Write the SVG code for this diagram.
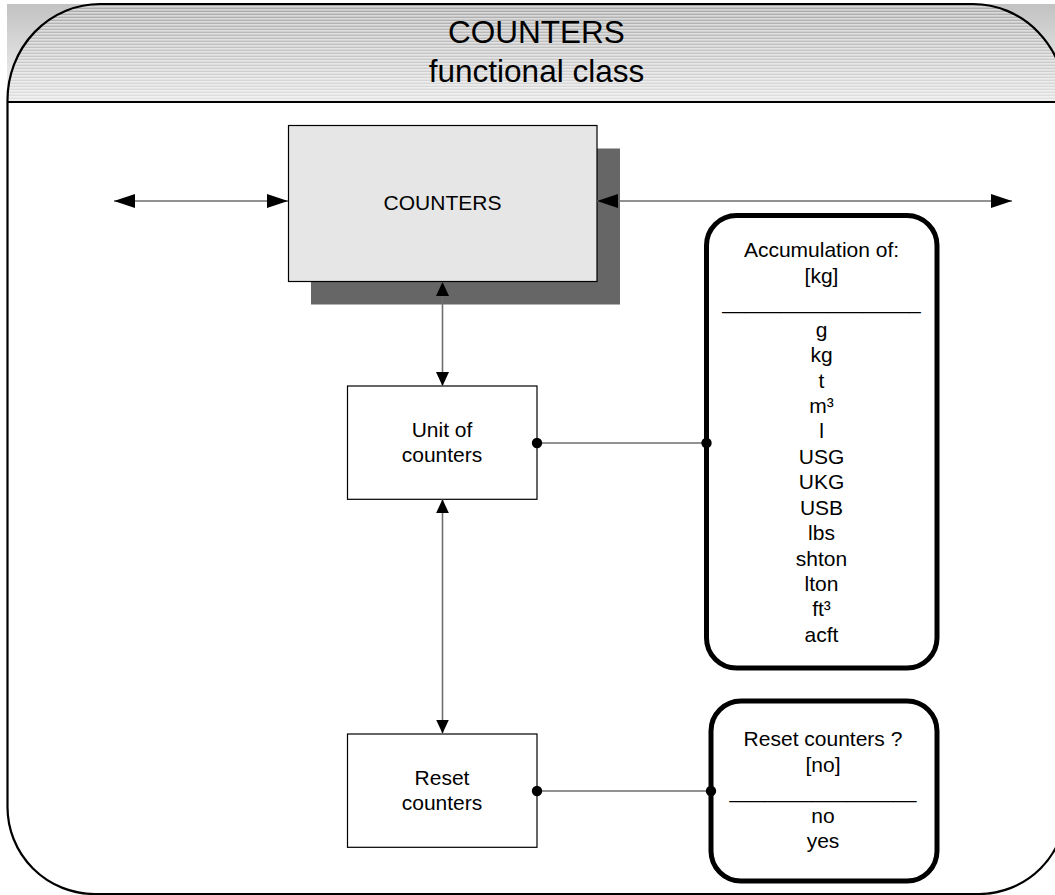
<svg xmlns="http://www.w3.org/2000/svg" width="1055" height="895" viewBox="0 0 1055 895">
<defs>
<linearGradient id="bgGrad" x1="0" y1="0" x2="0" y2="1">
<stop offset="0" stop-color="#c2c2c2"/>
<stop offset="1" stop-color="#f6f6f6"/>
</linearGradient>
<linearGradient id="hdrGrad" x1="0" y1="0" x2="0" y2="1">
<stop offset="0" stop-color="#a8a8a8"/>
<stop offset="1" stop-color="#e2e2e2"/>
</linearGradient>
<pattern id="stripes" width="10" height="3" patternUnits="userSpaceOnUse">
<rect x="0" y="0" width="10" height="1.6" fill="#ffffff" fill-opacity="0.55"/>
</pattern>
<marker id="ahH" markerUnits="userSpaceOnUse" markerWidth="21" markerHeight="14" refX="21" refY="7" orient="auto-start-reverse" viewBox="0 0 21 14">
<path d="M0,0 L21,7 L0,14 Z" fill="#000"/>
</marker>
<marker id="ahV" markerUnits="userSpaceOnUse" markerWidth="14" markerHeight="13" refX="14" refY="6.5" orient="auto-start-reverse" viewBox="0 0 14 13">
<path d="M0,0 L14,6.5 L0,13 Z" fill="#000"/>
</marker>
<marker id="dot" markerUnits="userSpaceOnUse" markerWidth="12" markerHeight="12" refX="6" refY="6" viewBox="0 0 12 12">
<circle cx="6" cy="6" r="5.2" fill="#000"/>
</marker>
</defs>
<style>
text { font-family: "Liberation Sans", Arial, sans-serif; fill: #000; text-anchor: middle; }
.t21 { font-size: 21px; }
.hdr { font-size: 31.5px; }
.box { fill: #fff; stroke: #000; stroke-width: 1.2; }
.opt { fill: #fff; stroke: #000; stroke-width: 5; }
.frame { fill: none; stroke: #000; stroke-width: 2.2; }
.conn { fill: none; stroke: #6e6e6e; stroke-width: 1.6; }
</style>

<g id="frame">
<rect x="7" y="4" width="1048" height="98" fill="url(#bgGrad)"/>
<path d="M7.5,102 V100 A92.5,96 0 0 1 100,4 H973 A93,98 0 0 1 1066,102 Z" fill="url(#hdrGrad)"/>
<path d="M7.5,102 V100 A92.5,96 0 0 1 100,4 H973 A93,98 0 0 1 1066,102 Z" fill="url(#stripes)"/>
<path class="frame" d="M7.5,102 V100 A92.5,96 0 0 1 100,4 H973 A93,98 0 0 1 1066,102"/>
<path class="frame" d="M7.5,102 H1066 M7.5,102 V807 A87,87 0 0 0 94.5,894 H979 A87,87 0 0 0 1066,807 V102"/>
<text class="hdr" x="536.5" y="43.3">COUNTERS</text>
<text class="hdr" x="536.5" y="81.7">functional class</text>
</g>

<g id="node-counters">
<rect x="311" y="148.5" width="309" height="156" fill="#666666"/>
<rect x="288.5" y="125.5" width="308.5" height="156" fill="#e6e6e6" stroke="#000" stroke-width="1.2"/>
<text class="t21" x="442.5" y="210">COUNTERS</text>
</g>

<g id="node-unit">
<rect class="box" x="347.5" y="386" width="189.5" height="113.3"/>
<text class="t21" x="442" y="436.7">Unit of</text>
<text class="t21" x="442" y="461.7">counters</text>
</g>

<g id="node-reset">
<rect class="box" x="347.5" y="734" width="189.5" height="113.3"/>
<text class="t21" x="442" y="785">Reset</text>
<text class="t21" x="442" y="810">counters</text>
</g>

<g id="node-accumulation">
<rect class="opt" x="706.5" y="215.5" width="230.5" height="452.5" rx="30" ry="30"/>
<text class="t21" x="821.5" y="257">Accumulation of:</text>
<text class="t21" x="821.5" y="283">[kg]</text>
<text class="t21" x="821.5" y="309">_________________</text>
<text class="t21" x="821.5" y="336.7">g</text>
<text class="t21" x="821.5" y="362.1">kg</text>
<text class="t21" x="821.5" y="387.5">t</text>
<text class="t21" x="821.5" y="413">m³</text>
<text class="t21" x="821.5" y="438.4">l</text>
<text class="t21" x="821.5" y="463.8">USG</text>
<text class="t21" x="821.5" y="489.2">UKG</text>
<text class="t21" x="821.5" y="514.6">USB</text>
<text class="t21" x="821.5" y="540">lbs</text>
<text class="t21" x="821.5" y="565.5">shton</text>
<text class="t21" x="821.5" y="590.9">lton</text>
<text class="t21" x="821.5" y="616.3">ft³</text>
<text class="t21" x="821.5" y="641.7">acft</text>
</g>

<g id="node-reset-options">
<rect class="opt" x="711" y="701" width="226" height="180" rx="30" ry="30"/>
<text class="t21" x="823" y="746">Reset counters ?</text>
<text class="t21" x="823" y="771.5">[no]</text>
<text class="t21" x="823" y="798">________________</text>
<text class="t21" x="823" y="822.5">no</text>
<text class="t21" x="823" y="848">yes</text>
</g>

<g id="connectors">
<line class="conn" x1="114" y1="201" x2="288" y2="201" marker-start="url(#ahH)" marker-end="url(#ahH)"/>
<line class="conn" x1="597" y1="201" x2="1012" y2="201" marker-start="url(#ahH)" marker-end="url(#ahH)"/>
<line class="conn" x1="442.5" y1="282" x2="442.5" y2="386" marker-start="url(#ahV)" marker-end="url(#ahV)"/>
<line class="conn" x1="442.5" y1="499.3" x2="442.5" y2="733.5" marker-start="url(#ahV)" marker-end="url(#ahV)"/>
<line class="conn" x1="537" y1="443" x2="706.5" y2="443" marker-start="url(#dot)" marker-end="url(#dot)"/>
<line class="conn" x1="537" y1="791" x2="711" y2="791" marker-start="url(#dot)" marker-end="url(#dot)"/>
</g>
</svg>
